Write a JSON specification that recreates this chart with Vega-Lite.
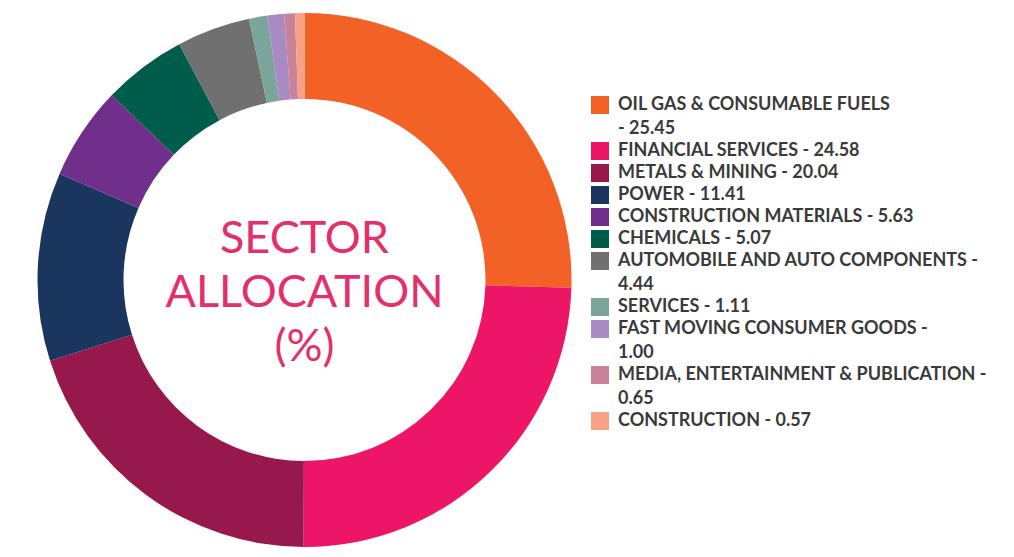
{
  "$schema": "https://vega.github.io/schema/vega-lite/v6.json",
  "width": 609,
  "height": 558,
  "padding": {"left": 0, "top": 1, "right": 405, "bottom": 0},
  "autosize": {"type": "none"},
  "background": "white",
  "config": {
    "view": {"stroke": null},
    "font": "Lato",
    "style": {"guide-label": {"lineHeight": 24}}
  },
  "layer": [
    {
      "data": {
        "values": [
          {"rank": 1, "sector": "OIL GAS & CONSUMABLE FUELS|- 25.45", "pct": 25.45},
          {"rank": 2, "sector": "FINANCIAL SERVICES - 24.58", "pct": 24.58},
          {"rank": 3, "sector": "METALS & MINING - 20.04", "pct": 20.04},
          {"rank": 4, "sector": "POWER - 11.41", "pct": 11.41},
          {"rank": 5, "sector": "CONSTRUCTION MATERIALS - 5.63", "pct": 5.63},
          {"rank": 6, "sector": "CHEMICALS - 5.07", "pct": 5.07},
          {"rank": 7, "sector": "AUTOMOBILE AND AUTO COMPONENTS -|4.44", "pct": 4.44},
          {"rank": 8, "sector": "SERVICES - 1.11", "pct": 1.11},
          {"rank": 9, "sector": "FAST MOVING CONSUMER GOODS -|1.00", "pct": 1.0},
          {"rank": 10, "sector": "MEDIA, ENTERTAINMENT & PUBLICATION -|0.65", "pct": 0.65},
          {"rank": 11, "sector": "CONSTRUCTION - 0.57", "pct": 0.57}
        ]
      },
      "mark": {"type": "arc", "outerRadius": 267, "innerRadius": 181},
      "encoding": {
        "theta": {"field": "pct", "type": "quantitative", "stack": true},
        "order": {"field": "rank", "type": "quantitative"},
        "color": {
          "field": "sector",
          "type": "nominal",
          "scale": {
            "domain": [
              "OIL GAS & CONSUMABLE FUELS|- 25.45",
              "FINANCIAL SERVICES - 24.58",
              "METALS & MINING - 20.04",
              "POWER - 11.41",
              "CONSTRUCTION MATERIALS - 5.63",
              "CHEMICALS - 5.07",
              "AUTOMOBILE AND AUTO COMPONENTS -|4.44",
              "SERVICES - 1.11",
              "FAST MOVING CONSUMER GOODS -|1.00",
              "MEDIA, ENTERTAINMENT & PUBLICATION -|0.65",
              "CONSTRUCTION - 0.57"
            ],
            "range": ["#F26126", "#ED1566", "#97194C", "#1B365E", "#702F8A", "#005C4B", "#707070", "#7BA59B", "#A98BC3", "#C8829A", "#F7A186"]
          },
          "legend": {
            "title": null,
            "orient": "none",
            "legendX": 591,
            "legendY": 95,
            "symbolType": "square",
            "symbolSize": 324,
            "symbolStrokeWidth": 0,
            "labelFont": "Lato",
            "labelFontWeight": "bold",
            "labelFontSize": 18,
            "labelColor": "#3a3a3a",
            "labelLimit": 0,
            "labelOffset": 9,
            "labelBaseline": "middle",
            "rowPadding": 4,
            "labelExpr": "split(datum.label, '|')"
          }
        }
      }
    },
    {
      "data": {"values": [{"caption": ["SECTOR", "ALLOCATION", "(%)"]}]},
      "mark": {
        "type": "text",
        "font": "Lato",
        "fontSize": 45,
        "lineHeight": 54,
        "color": "#E3306C",
        "align": "center",
        "baseline": "middle",
        "dy": -41
      },
      "encoding": {"text": {"field": "caption"}}
    }
  ]
}
